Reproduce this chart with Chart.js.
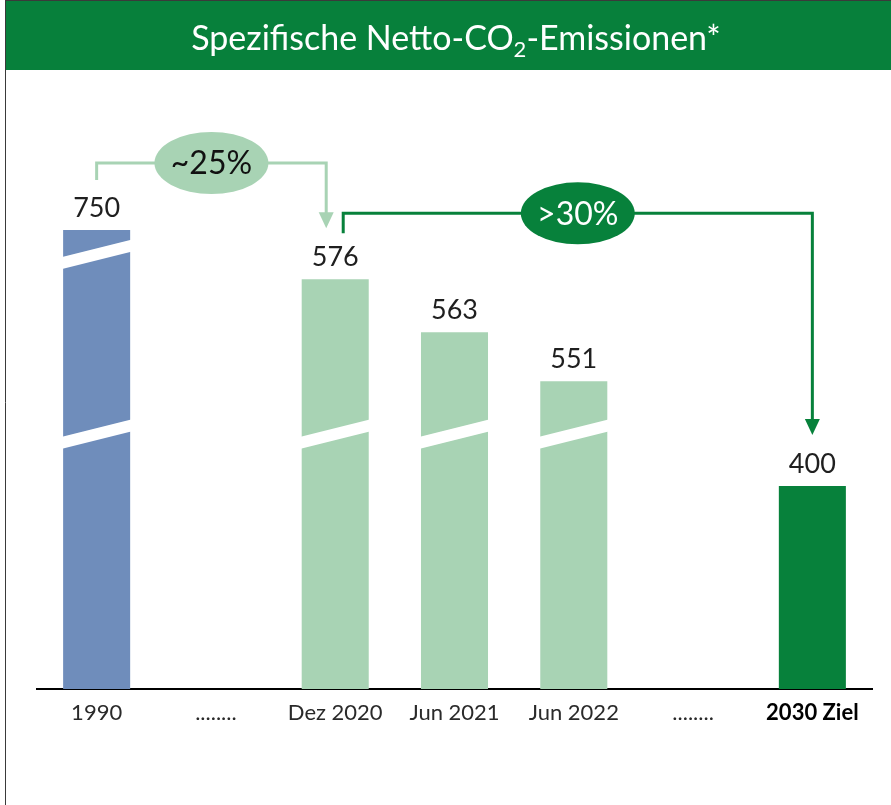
<!DOCTYPE html>
<html>
<head>
<meta charset="utf-8">
<script src="https://cdn.jsdelivr.net/npm/chart.js"></script>
<style>
  html, body { margin: 0; padding: 0; background: #fff; overflow: hidden; }
  canvas { display: block; }
</style>
</head>
<body>
<canvas id="c" width="891" height="805"></canvas>
<script>
// ---- data ----
const categories = ['1990', '........', 'Dez 2020', 'Jun 2021', 'Jun 2022', '........', '2030 Ziel'];
const emissions = [750, null, 576, 563, 551, null, 400];
const barColors = ['#6f8dbb', '#ffffff', '#a8d3b4', '#a8d3b4', '#a8d3b4', '#ffffff', '#07813b'];
const changeLabels = ['~25%', '>30%'];
const titlePre = 'Spezifische Netto-CO';
const titleSub = '2';
const titlePost = '-Emissionen*';
// broken axis: value -> share of plot height (piecewise linear)
const axisKnotValues = [0, 400, 540, 580, 740, 750, 930];
const axisKnotShares = [0, 0.3333, 0.4319, 0.6995, 0.7176, 0.7537, 1];
const axisBreakValues = [521, 706];

function shareFor(v) {
  const kv = axisKnotValues, ks = axisKnotShares;
  if (v <= kv[0]) return ks[0];
  for (let i = 1; i < kv.length; i++) {
    if (v <= kv[i]) return ks[i-1] + (v - kv[i-1]) / (kv[i] - kv[i-1]) * (ks[i] - ks[i-1]);
  }
  return ks[ks.length-1];
}
function valueFor(s) {
  const kv = axisKnotValues, ks = axisKnotShares;
  if (s <= ks[0]) return kv[0];
  for (let i = 1; i < ks.length; i++) {
    if (s <= ks[i]) return kv[i-1] + (s - ks[i-1]) / (ks[i] - ks[i-1]) * (kv[i] - kv[i-1]);
  }
  return kv[kv.length-1];
}

class BrokenLinearScale extends Chart.LinearScale {
  getPixelForValue(value) {
    return this.bottom - shareFor(value) * (this.bottom - this.top);
  }
  getValueForPixel(pixel) {
    return valueFor((this.bottom - pixel) / (this.bottom - this.top));
  }
}
BrokenLinearScale.id = 'brokenLinear';
BrokenLinearScale.defaults = Chart.LinearScale.defaults;
Chart.register(BrokenLinearScale);

const FONT = 'Lato, "Open Sans", sans-serif';

const framePlugin = {
  id: 'frame',
  beforeDraw(chart) {
    const ctx = chart.ctx;
    ctx.save();
    ctx.fillStyle = '#ffffff';
    ctx.fillRect(0, 0, chart.width, chart.height);
    ctx.strokeStyle = '#3a3a3a';
    ctx.lineWidth = 1;
    ctx.beginPath();
    ctx.moveTo(5.5, 0); ctx.lineTo(5.5, chart.height);
    ctx.moveTo(5, 0.5); ctx.lineTo(chart.width, 0.5);
    ctx.stroke();
    ctx.fillStyle = '#07803b';
    ctx.fillRect(6, 1, chart.width - 6, 69);
    // title
    ctx.fillStyle = '#ffffff';
    ctx.textBaseline = 'alphabetic';
    ctx.textAlign = 'left';
    const big = '34px ' + FONT, small = '22px ' + FONT;
    ctx.font = big; const w1 = ctx.measureText(titlePre).width; const w3 = ctx.measureText(titlePost).width;
    ctx.font = small; const w2 = ctx.measureText(titleSub).width;
    const total = w1 + w2 + w3;
    let x = 456 - total / 2;
    const base = 50;
    ctx.font = big; ctx.fillText(titlePre, x, base); x += w1;
    ctx.font = small; ctx.fillText(titleSub, x, base + 7); x += w2;
    ctx.font = big; ctx.fillText(titlePost, x, base);
    ctx.restore();
  }
};

function arrowDown(ctx, x, tip, color) {
  ctx.fillStyle = color;
  ctx.beginPath();
  ctx.moveTo(x - 7.5, tip - 16);
  ctx.lineTo(x + 7.5, tip - 16);
  ctx.lineTo(x, tip);
  ctx.closePath();
  ctx.fill();
}
function badge(ctx, cx, cy, text, fill, color) {
  ctx.fillStyle = fill;
  ctx.beginPath();
  ctx.ellipse(cx, cy, 57, 31, 0, 0, Math.PI * 2);
  ctx.fill();
  ctx.fillStyle = color;
  ctx.font = '32px ' + FONT;
  ctx.textAlign = 'center';
  ctx.textBaseline = 'middle';
  ctx.fillText(text, cx, cy + 1);
}

const overlayPlugin = {
  id: 'overlay',
  afterDatasetsDraw(chart) {
    const ctx = chart.ctx;
    const meta = chart.getDatasetMeta(0);
    const yScale = chart.scales.y;
    const bars = meta.data;
    ctx.save();
    // axis breaks
    axisBreakValues.forEach(bv => {
      const yc = yScale.getPixelForValue(bv);
      bars.forEach((b, i) => {
        const v = emissions[i];
        if (v == null || v <= bv) return;
        const half = b.width / 2;
        const l = b.x - half - 1, r = b.x + half + 1;
        const slope = 8.6, t = 6;
        ctx.fillStyle = '#ffffff';
        ctx.beginPath();
        ctx.moveTo(l, yc + slope - t);
        ctx.lineTo(r, yc - slope - t);
        ctx.lineTo(r, yc - slope + t);
        ctx.lineTo(l, yc + slope + t);
        ctx.closePath();
        ctx.fill();
      });
    });
    // value labels
    ctx.fillStyle = '#1f1f1f';
    ctx.font = '27px ' + FONT;
    ctx.textAlign = 'center';
    ctx.textBaseline = 'alphabetic';
    bars.forEach((b, i) => {
      if (emissions[i] == null) return;
      ctx.fillText(String(emissions[i]), b.x, b.y - 13);
    });
    // arrow 1: 1990 -> Dez 2020
    const b0 = bars[0], b2 = bars[2], b6 = bars[6];
    const light = '#a8d3b4', dark = '#07813b';
    ctx.lineWidth = 3;
    ctx.strokeStyle = light;
    const y1 = b0.y - 67, x1a = b0.x, x1b = b2.x - 9, tip1 = b2.y - 51;
    ctx.beginPath();
    ctx.moveTo(x1a, b0.y - 50);
    ctx.lineTo(x1a, y1);
    ctx.lineTo(x1b, y1);
    ctx.lineTo(x1b, tip1 - 15);
    ctx.stroke();
    arrowDown(ctx, x1b, tip1, light);
    badge(ctx, (x1a + x1b) / 2, y1, changeLabels[0], light, '#111111');
    // arrow 2: Dez 2020 -> 2030
    ctx.strokeStyle = dark;
    const y2 = b2.y - 66, x2a = b2.x + 8, x2b = b6.x, tip2 = b6.y - 51;
    ctx.beginPath();
    ctx.moveTo(x2a, b2.y - 46);
    ctx.lineTo(x2a, y2);
    ctx.lineTo(x2b, y2);
    ctx.lineTo(x2b, tip2 - 15);
    ctx.stroke();
    arrowDown(ctx, x2b, tip2, dark);
    badge(ctx, (x2a + x2b) / 2, y2, changeLabels[1], dark, '#ffffff');
    ctx.restore();
  }
};

new Chart(document.getElementById('c'), {
  type: 'bar',
  data: {
    labels: categories,
    datasets: [{
      data: emissions,
      backgroundColor: barColors,
      borderWidth: 0,
      barPercentage: 0.562,
      categoryPercentage: 1
    }]
  },
  options: {
    responsive: false,
    animation: false,
    devicePixelRatio: 1,
    layout: { padding: { top: 80, left: 37, right: 19, bottom: 0 } },
    plugins: { legend: { display: false }, tooltip: { enabled: false }, title: { display: false } },
    scales: {
      x: {
        grid: { display: true, drawOnChartArea: false, drawTicks: false },
        border: { display: true, color: '#000000', width: 2 },
        ticks: {
          padding: 11,
          autoSkip: false,
          maxRotation: 0,
          color: (c) => c.index === 6 ? '#000000' : '#2a2a2a',
          font: (c) => ({ family: FONT, size: 22, weight: c.index === 6 ? 'bold' : 'normal' })
        },
        afterFit: (s) => { s.height = 116; }
      },
      y: {
        type: 'brokenLinear',
        display: false,
        min: 0,
        max: 930
      }
    }
  },
  plugins: [framePlugin, overlayPlugin]
});
</script>
</body>
</html>
